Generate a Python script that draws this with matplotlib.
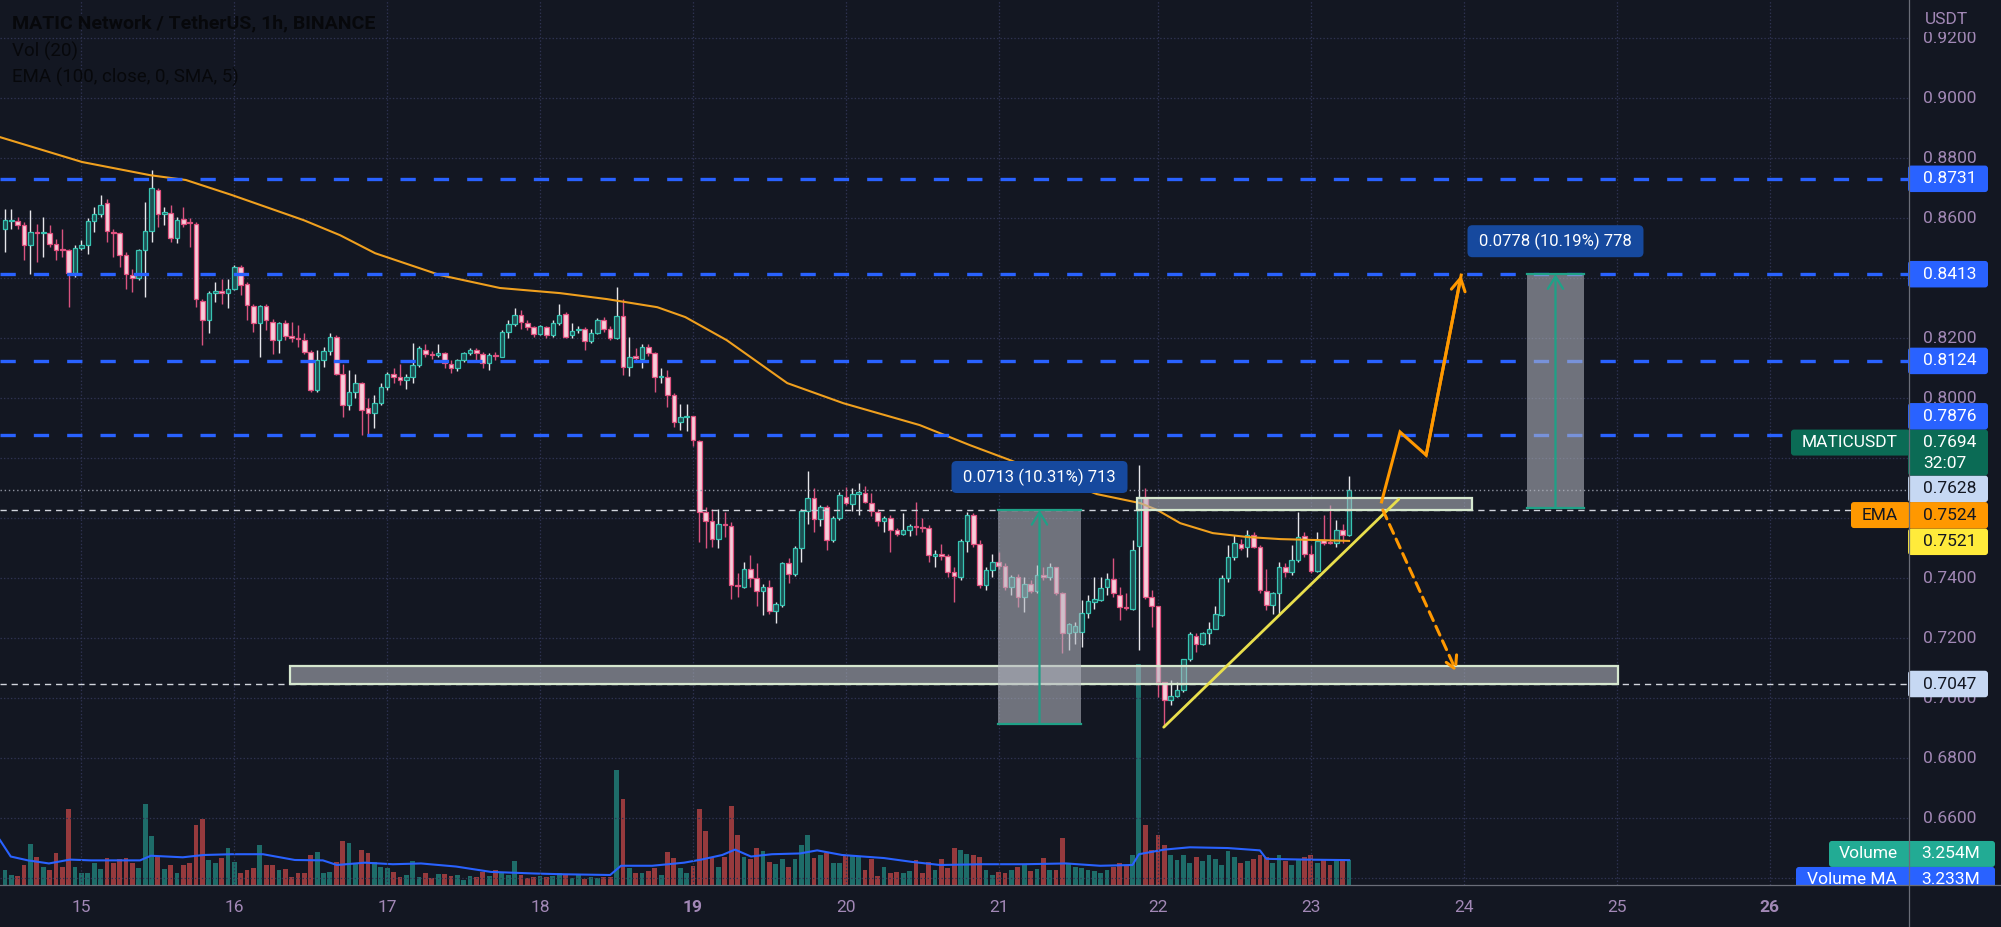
import matplotlib
matplotlib.use("Agg")
import matplotlib.pyplot as plt
from matplotlib.patches import Rectangle, FancyBboxPatch
from matplotlib.lines import Line2D

plt.rcParams['font.family'] = ['Roboto', 'DejaVu Sans']
plt.rcParams['lines.scale_dashes'] = False

W, H = 2001, 927
BG = '#131722'
AXCOL = '#a288b6'
GRID = '#2f3352'

# ---------------- data (1h candles, index 0 = 14th 12:00) ----------------
day_labels = ['15', '16', '17', '18', '19', '20', '21', '22', '23', '24', '25', '26']
day_pos = [12, 36, 60, 84, 108, 132, 156, 181, 205, 229, 253, 277]
bold_days = ['19', '26']

opens = [.8565, .8589, .8591, .8576, .8510, .8554, .8550, .8549, .8515, .8495, .8493, .8418,
         .8502, .8510, .8590, .8613, .8649, .8553, .8549, .8478, .8412, .8401, .8495, .8556,
         .8695, .8615, .8617, .8535, .8597, .8585, .8582, .8324, .8260, .8352, .8357, .8349,
         .8365, .8437, .8380, .8308, .8252, .8308, .8254, .8193, .8249, .8206, .8200, .8193,
         .8154, .8026, .8126, .8157, .8204, .8082, .7976, .8021, .8049, .7966, .7949, .7984,
         .8038, .8080, .8069, .8060, .8071, .8110, .8162, .8145, .8143, .8152, .8113, .8102,
         .8127, .8151, .8160, .8147, .8116, .8142, .8138, .8221, .8247, .8277, .8251, .8236,
         .8213, .8238, .8210, .8249, .8280, .8210, .8227, .8229, .8191, .8218, .8260, .8229,
         .8202, .8274, .8104, .8137, .8132, .8171, .8149, .8070, .8071, .8010, .7921, .7938,
         .7940, .7858, .7619, .7591, .7532, .7579, .7574, .7375, .7369, .7429, .7399, .7358,
         .7371, .7291, .7310, .7449, .7413, .7502, .7623, .7666, .7596, .7636, .7527, .7599,
         .7671, .7647, .7680, .7684, .7651, .7621, .7591, .7599, .7560, .7547, .7562, .7573,
         .7568, .7566, .7473, .7480, .7473, .7421, .7404, .7524, .7610, .7513, .7377, .7427,
         .7455, .7440, .7371, .7404, .7338, .7382, .7358, .7410, .7404, .7436, .7349, .7218,
         .7221, .7221, .7284, .7321, .7327, .7369, .7396, .7343, .7304, .7296, .7507, .7669,
         .7338, .7307, .7054, .6993, .7007, .7027, .7129, .7207, .7182, .7216, .7232, .7277,
         .7399, .7469, .7513, .7504, .7543, .7504, .7358, .7310, .7349, .7436, .7421, .7460,
         .7540, .7480, .7424, .7527, .7521, .7516, .7560, .7543]
highs = [.8632, .8632, .8604, .8587, .8626, .8582, .8604, .8576, .8532, .8565, .8498, .8510,
         .8528, .8599, .8637, .8676, .8665, .8565, .8554, .8487, .8432, .8498, .8654, .8762,
         .8699, .8637, .8643, .8604, .8637, .8602, .8588, .8332, .8357, .8387, .8398, .8398,
         .8443, .8443, .8387, .8315, .8310, .8315, .8265, .8254, .8262, .8254, .8243, .8217,
         .8160, .8160, .8169, .8217, .8210, .8115, .8093, .8082, .8054, .7999, .8010, .8051,
         .8088, .8099, .8113, .8082, .8184, .8173, .8180, .8157, .8180, .8154, .8127, .8132,
         .8154, .8168, .8166, .8154, .8151, .8154, .8227, .8260, .8302, .8295, .8262, .8240,
         .8243, .8240, .8260, .8313, .8288, .8249, .8240, .8236, .8229, .8266, .8269, .8240,
         .8371, .8331, .8204, .8166, .8182, .8180, .8154, .8099, .8093, .8016, .7980, .7980,
         .7940, .7860, .7638, .7629, .7629, .7621, .7588, .7416, .7454, .7477, .7449, .7382,
         .7393, .7321, .7454, .7466, .7507, .7629, .7758, .7699, .7643, .7643, .7607, .7688,
         .7704, .7702, .7716, .7707, .7684, .7632, .7607, .7610, .7566, .7616, .7582, .7654,
         .7599, .7577, .7493, .7513, .7482, .7438, .7532, .7621, .7616, .7527, .7438, .7482,
         .7488, .7449, .7410, .7413, .7404, .7393, .7443, .7438, .7449, .7438, .7354, .7249,
         .7254, .7327, .7343, .7404, .7404, .7418, .7466, .7371, .7349, .7527, .7777, .7699,
         .7362, .7307, .7054, .7060, .7054, .7132, .7221, .7218, .7221, .7254, .7307, .7410,
         .7510, .7543, .7529, .7562, .7554, .7510, .7432, .7354, .7454, .7451, .7510, .7621,
         .7554, .7510, .7554, .7610, .7643, .7593, .7580, .7740]
lows = [.8487, .8565, .8565, .8460, .8415, .8454, .8471, .8504, .8460, .8471, .8304, .8404,
        .8493, .8480, .8554, .8604, .8521, .8471, .8437, .8365, .8354, .8393, .8337, .8521,
        .8571, .8576, .8521, .8517, .8571, .8504, .8304, .8176, .8217, .8321, .8315, .8302,
        .8360, .8343, .8260, .8221, .8137, .8226, .8148, .8151, .8193, .8188, .8171, .8148,
        .8021, .8021, .8104, .8143, .8076, .7938, .7960, .7999, .7877, .7882, .7899, .7976,
        .8027, .8049, .8043, .8032, .8051, .8104, .8138, .8132, .8138, .8099, .8084, .8091,
        .8121, .8143, .8127, .8102, .8093, .8127, .8136, .8199, .8240, .8232, .8227, .8204,
        .8210, .8202, .8204, .8243, .8199, .8199, .8218, .8162, .8184, .8213, .8221, .8195,
        .8197, .8077, .8073, .8127, .8099, .8140, .8021, .8049, .7971, .7904, .7893, .7891,
        .7840, .7521, .7499, .7504, .7499, .7538, .7329, .7338, .7366, .7369, .7307, .7277,
        .7282, .7249, .7304, .7384, .7407, .7454, .7582, .7554, .7573, .7493, .7521, .7593,
        .7643, .7624, .7610, .7649, .7607, .7573, .7554, .7488, .7540, .7543, .7540, .7543,
        .7554, .7454, .7438, .7460, .7404, .7321, .7393, .7488, .7504, .7366, .7362, .7404,
        .7432, .7360, .7343, .7304, .7288, .7349, .7349, .7393, .7393, .7343, .7149, .7160,
        .7182, .7171, .7266, .7296, .7324, .7343, .7338, .7260, .7293, .7293, .7160, .7332,
        .7238, .7004, .6904, .6977, .7004, .7021, .7124, .7154, .7177, .7182, .7229, .7273,
        .7388, .7460, .7493, .7469, .7499, .7349, .7293, .7282, .7282, .7404, .7410, .7454,
        .7471, .7418, .7421, .7510, .7513, .7504, .7518, .7540]
closes = [.8595, .8591, .8576, .8510, .8554, .8551, .8552, .8515, .8495, .8493, .8418, .8502,
          .8510, .8590, .8613, .8645, .8556, .8551, .8476, .8413, .8401, .8495, .8556, .8699,
          .8615, .8618, .8535, .8595, .8582, .8583, .8329, .8260, .8351, .8355, .8349, .8365,
          .8437, .8376, .8310, .8252, .8308, .8260, .8193, .8249, .8206, .8199, .8198, .8154,
          .8026, .8126, .8157, .8204, .8082, .7976, .8021, .8049, .7960, .7949, .7984, .8038,
          .8080, .8069, .8060, .8071, .8110, .8168, .8147, .8143, .8152, .8118, .8102, .8127,
          .8151, .8160, .8149, .8116, .8143, .8140, .8221, .8247, .8277, .8255, .8236, .8213,
          .8240, .8210, .8249, .8277, .8204, .8224, .8229, .8191, .8218, .8260, .8229, .8202,
          .8274, .8104, .8136, .8135, .8171, .8149, .8071, .8072, .8010, .7921, .7938, .7942,
          .7862, .7621, .7591, .7532, .7580, .7577, .7377, .7373, .7429, .7399, .7358, .7371,
          .7291, .7313, .7451, .7413, .7502, .7623, .7666, .7596, .7636, .7527, .7599, .7677,
          .7651, .7682, .7686, .7654, .7624, .7591, .7599, .7560, .7547, .7562, .7573, .7571,
          .7566, .7477, .7482, .7473, .7421, .7407, .7524, .7610, .7513, .7377, .7427, .7455,
          .7440, .7371, .7404, .7336, .7382, .7358, .7410, .7404, .7436, .7349, .7218, .7247,
          .7240, .7284, .7324, .7329, .7366, .7396, .7349, .7304, .7299, .7493, .7669, .7338,
          .7307, .7054, .6993, .7007, .7027, .7129, .7213, .7182, .7216, .7229, .7282, .7399,
          .7469, .7516, .7502, .7543, .7504, .7360, .7310, .7349, .7438, .7421, .7460, .7538,
          .7480, .7424, .7524, .7518, .7516, .7560, .7543, .7693]
# volume in millions
volume = [2.0, 1.3, 1.2, 2.6, 5.3, 3.6, 2.3, 2.0, 4.2, 2.3, 9.9, 2.3, 1.6, 1.6, 2.9, 2.1, 3.5, 2.9, 3.4, 3.5,
          2.9, 2.2, 10.5, 6.4, 3.6, 2.1, 2.6, 1.6, 2.6, 2.9, 7.8, 8.6, 3.3, 2.9, 3.5, 4.8, 3.0, 1.6, 2.0, 2.2,
          5.2, 2.6, 2.6, 2.0, 2.1, 1.0, 1.6, 1.6, 3.9, 4.3, 1.6, 1.7, 3.0, 5.7, 5.5, 2.9, 4.6, 4.2, 3.0, 2.3,
          2.2, 1.7, 1.0, 1.3, 3.1, 1.0, 1.6, 0.9, 1.4, 1.4, 1.2, 1.3, 0.7, 1.2, 1.0, 1.7, 1.2, 2.0, 1.6, 1.3,
          3.1, 1.3, 0.9, 1.0, 1.2, 1.0, 1.2, 1.6, 1.3, 0.9, 1.3, 0.8, 1.0, 0.9, 1.0, 1.0, 15.0, 11.2, 2.2, 1.6,
          1.6, 1.8, 2.2, 1.3, 4.3, 3.5, 2.2, 1.6, 2.5, 9.9, 7.0, 3.5, 2.3, 3.6, 10.3, 6.5, 3.6, 3.4, 4.8, 4.4,
          3.0, 2.7, 3.4, 2.3, 3.4, 5.2, 6.5, 3.5, 3.9, 4.2, 2.9, 2.9, 3.9, 3.8, 3.6, 2.0, 3.4, 1.2, 2.3, 1.6,
          1.7, 1.6, 1.8, 3.3, 1.6, 3.0, 2.0, 3.4, 2.2, 4.8, 4.6, 4.0, 3.9, 3.6, 2.0, 1.3, 1.7, 1.6, 2.0, 2.3,
          2.7, 1.8, 2.1, 3.5, 2.0, 2.0, 6.1, 2.7, 2.3, 2.2, 2.0, 1.8, 1.6,
          2.0, 2.3, 2.9, 2.6, 3.9, 28.7, 7.8, 4.6, 6.5, 5.2, 3.9,
          3.3, 3.9, 2.9, 3.6, 3.1, 3.9, 3.4, 2.6, 4.4, 3.6, 2.9, 3.1, 3.4, 3.9, 3.6, 2.9, 3.9, 3.1, 2.6, 3.4,
          3.6, 3.9, 2.9, 3.3, 2.6, 3.1, 3.4, 3.254]

ema_x = [-0.8, 12.1, 22.8, 28.4, 35.6, 46.9, 52.6, 58.1, 68.3, 77.7, 87.1, 94.5, 102.4, 106.8,
         113.3, 122.8, 131.6, 143.6, 151.5, 157.8, 171.4, 178.2, 180.9, 184.5, 189.6, 195.0, 200.2, 211]
ema_y = [0.8870, 0.8787, 0.8743, 0.8727, 0.8677, 0.8593, 0.8543, 0.8483, 0.8410, 0.8367, 0.8350,
         0.8330, 0.8303, 0.8270, 0.8193, 0.8050, 0.7983, 0.7910, 0.7843, 0.7793, 0.7680, 0.7650,
         0.7627, 0.7583, 0.7550, 0.7537, 0.7530, 0.7524]
vma_x = [-0.8, 0.9, 3.6, 6.9, 10.2, 13.5, 21.2, 22.9, 27.9, 31.2, 35.6, 40.5, 45.5, 49.9, 52.1,
         56.5, 60.9, 65.3, 70.8, 76.3, 82.9, 87.3, 95.0, 96.7, 101.6, 106.6, 109.3, 112.6, 114.6,
         117.1, 120.4, 124.8, 127.5, 131.4, 138.0, 142.4, 146.8, 153.4, 160.0, 166.6, 171.9, 177,
         178, 182, 186, 192, 197, 198, 204, 211]
vma_y = [5.85, 3.7, 3.2, 2.8, 3.3, 3.2, 3.2, 3.8, 3.6, 3.9, 4.0, 4.0, 3.25, 3.2, 2.6,
         2.9, 2.7, 2.8, 2.4, 1.7, 1.5, 1.4, 1.3, 2.5, 2.5, 2.9, 3.3, 3.9, 4.6,
         3.7, 4.0, 4.1, 4.5, 3.9, 3.5, 3.0, 2.6, 2.7, 2.7, 2.8, 2.5, 2.6,
         4.0, 4.6, 4.9, 4.8, 4.5, 3.4, 3.3, 3.233]

price_ticks = [0.64, 0.66, 0.68, 0.70, 0.72, 0.74, 0.76, 0.78, 0.80, 0.82, 0.84, 0.86, 0.88, 0.90, 0.92]
levels = [0.8731, 0.8413, 0.8124, 0.7876]
rays = [0.7628, 0.7047]
last_price = 0.7694
ema_last = 0.7524
trend_last = 0.7521

# drawings: (index, price)
zones = [(44.7, 253.2, 0.7047, 0.7107), (177.7, 230.3, 0.7628, 0.7667)]
ranges = [(155.9, 168.9, 0.7627, 0.6914, '0.0713 (10.31%) 713'),
          (238.9, 247.9, 0.8413, 0.7635, '0.0778 (10.19%) 778')]
trend_x = [181.9, 218.8]
trend_y = [0.6903, 0.7663]
bull_x = [216.1, 219.0, 223.1, 228.6]
bull_y = [0.7654, 0.7887, 0.7810, 0.8410]
bear_x = [216.3, 227.9]
bear_y = [0.7627, 0.7087]

# ---------------- figure ----------------
fig = plt.figure(figsize=(W / 100, H / 100), dpi=100, facecolor=BG)
rect = [0, 42 / H, 1908 / W, 885 / H]
vax = fig.add_axes(rect, zorder=1)
ax = fig.add_axes(rect, zorder=2, sharex=vax)
lab = fig.add_axes([0, 42 / H, 1, 885 / H], zorder=3)
for a in (vax, ax, lab):
    a.set_axis_off()

ax.set_xlim(-0.785, 298.74)
ax.set_ylim(0.6377, 0.9327)
vax.set_ylim(0, 115)
lab.set_xlim(0, W)
lab.set_ylim(885, 0)


def py(p):
    return H - ax.transData.transform((0, p))[1]


def px(i):
    return ax.transData.transform((i, 0))[0]


# grid
for d in day_pos:
    ax.axvline(d, color=GRID, lw=0.9, dashes=(1, 1.5), zorder=0)
for p in price_ticks:
    ax.axhline(p, color=GRID, lw=0.9, dashes=(1, 1.5), zorder=0)

# candles
x = list(range(len(closes)))
up = [c >= o for o, c in zip(opens, closes)]
wick_c = ['#e6e6ea' if u else '#d9537f' for u in up]
body_fc = ['#1d4f52' if u else '#f7cdd9' for u in up]
body_ec = ['#37c4b2' if u else '#e0517f' for u in up]
bottoms = [min(o, c) for o, c in zip(opens, closes)]
heights = [max(abs(c - o), 0.0004) for o, c in zip(opens, closes)]
ax.vlines(x, lows, highs, colors=wick_c, lw=1.0, zorder=3)
ax.bar(x, heights, bottom=bottoms, width=0.72, color=body_fc, edgecolor=body_ec,
       linewidth=0.9, zorder=4)

# volume
vcol = [('#26a69a', 0.6) if u else ('#ef5350', 0.6) for u in up]
vax.bar(x, volume, width=0.75, color=vcol, zorder=2)
vax.plot(vma_x, vma_y, color='#2962ff', lw=1.5, zorder=3)

# EMA
ax.plot(ema_x, ema_y, color='#f0a01e', lw=1.5, zorder=5)

# horizontal levels
for p in levels:
    ax.axhline(p, color='#2962ff', lw=2.4, dashes=(11, 13), zorder=6)
for p in rays:
    ax.axhline(p, color='#d1d4dc', lw=1.0, dashes=(4.5, 3.5), zorder=6)
ax.axhline(last_price, color='#8f93a0', lw=1.0, dashes=(1, 2), zorder=6)

# zones
for i0, i1, p0, p1 in zones:
    ax.add_patch(Rectangle((i0, p0), i1 - i0, p1 - p0, fc=('#b2b5be', 0.58),
                           ec='#d6e8cf', lw=1.6, zorder=7))

# price ranges
GREEN = '#1fa187'
for i0, i1, pt, pb, txt in ranges:
    ic = (i0 + i1) / 2
    ax.add_patch(Rectangle((i0, pb), i1 - i0, pt - pb, fc=('#b2b5be', 0.58), ec='none', zorder=7))
    ax.plot([i0, i1], [pt, pt], color=GREEN, lw=1.6, zorder=8)
    ax.plot([i0, i1], [pb, pb], color=GREEN, lw=1.6, zorder=8)
    ax.annotate('', xy=(ic, pt), xytext=(ic, pb), zorder=8,
                arrowprops=dict(arrowstyle='->,head_length=0.9,head_width=0.55', color=GREEN,
                                lw=1.6, shrinkA=0, shrinkB=0))
    cx, cy = px(ic), py(pt) - 33
    lab.add_patch(FancyBboxPatch((cx - 88, cy - 16), 176, 32, boxstyle='round,pad=0,rounding_size=5',
                                 fc='#16499e', ec='none', zorder=4))
    lab.text(cx, cy, txt, color='white', fontsize=12, ha='center', va='center', zorder=5)

# trend line and scenario arrows
ax.plot(trend_x, trend_y, color='#e9df4c', lw=2.0, zorder=9, solid_capstyle='round')
ax.plot(bull_x, bull_y, color='#ff9800', lw=2.2, zorder=9, solid_joinstyle='miter')
ax.annotate('', xy=(bull_x[-1], bull_y[-1]), xytext=(bull_x[-2], bull_y[-2]), zorder=9,
            arrowprops=dict(arrowstyle='->,head_length=0.9,head_width=0.5', color='#ff9800',
                            lw=2.2, shrinkA=0, shrinkB=0))
ax.annotate('', xy=(bear_x[-1], bear_y[-1]), xytext=(bear_x[0], bear_y[0]), zorder=9,
            arrowprops=dict(arrowstyle='->,head_length=0.9,head_width=0.5', color='#ff9800',
                            lw=2.2, linestyle=(0, (7, 4.5)), shrinkA=0, shrinkB=0))

# ---------------- right price scale ----------------
BLUE = '#2962ff'
LIGHT = '#c6d8f3'
DARK = '#131722'
labels = [  # price, text, face, text colour, tag, tag face, tag left px, second line
    (0.7047, '0.7047', LIGHT, DARK, None, None, None, None),
    (trend_last, '0.7521', '#ffeb3b', DARK, None, None, None, None),
    (ema_last, '0.7524', '#ff9800', DARK, 'EMA', '#ff9800', 1851, None),
    (0.7628, '0.7628', LIGHT, DARK, None, None, None, None),
    (last_price, '0.7694', '#0b6b55', 'white', 'MATICUSDT', '#0b6b55', 1791, '32:07'),
    (0.7876, '0.7876', BLUE, 'white', None, None, None, None),
    (0.8124, '0.8124', BLUE, 'white', None, None, None, None),
    (0.8413, '0.8413', BLUE, 'white', None, None, None, None),
    (0.8731, '0.8731', BLUE, 'white', None, None, None, None),
]

# stack the price labels upward so they do not collide
spans = []
top = 1e9
for p, txt, fc, tc, tag, tfc, tx0, sub in labels:
    h = 46 if sub else 26.5
    yc = min(py(p), top - h / 2)
    top = yc - h / 2
    y0 = yc - h / 2
    spans.append((y0, y0 + h))
    lab.add_patch(FancyBboxPatch((1908, y0), 80, h, boxstyle='round,pad=0,rounding_size=3',
                                 fc=fc, ec='none', zorder=4))
    if sub:
        lab.text(1950, y0 + 12.5, txt, color=tc, fontsize=12.5, ha='center', va='center', zorder=5)
        lab.text(1945, y0 + 34, sub, color=tc, fontsize=12.5, ha='center', va='center', zorder=5)
    else:
        lab.text(1950, yc, txt, color=tc, fontsize=12.5, ha='center', va='center', zorder=5)
    if tag:
        lab.add_patch(FancyBboxPatch((tx0, y0), 1910 - tx0, 26, boxstyle='round,pad=0,rounding_size=3',
                                     fc=tfc, ec='none', zorder=4))
        lab.text((tx0 + 1908) / 2, y0 + 13, tag, color=tc, fontsize=12.5, ha='center', va='center',
                 zorder=5)

# volume labels
yv = H - vax.transData.transform((0, volume[-1]))[1] - 6
for yc, tag, val, fc, tx0 in [(yv, 'Volume', f'{volume[-1]:.3f}M', '#22ab94', 1829),
                              (yv + 26, 'Volume MA', f'{vma_y[-1]:.3f}M', BLUE, 1796)]:
    spans.append((yc - 13, yc + 13))
    lab.add_patch(FancyBboxPatch((tx0, yc - 13), 1995 - tx0, 26, boxstyle='round,pad=0,rounding_size=3',
                                 fc=fc, ec='none', zorder=4))
    lab.text((tx0 + 1908) / 2, yc, tag, color='white', fontsize=12.5, ha='center', va='center', zorder=5)
    lab.text(1951, yc, val, color='white', fontsize=12.5, ha='center', va='center', zorder=5)

# tick labels, skipping the ones hidden under a price label
for p in price_ticks:
    yt = py(p)
    if any(a < yt < b for a, b in spans):
        continue
    lab.text(1950, yt, f'{p:.4f}', color=AXCOL, fontsize=12.5, ha='center', va='center', zorder=1)
lab.add_patch(Rectangle((1909, 0), 92, 32, fc=BG, ec='none', zorder=2))
lab.text(1946, 20, 'USDT', color=AXCOL, fontsize=12.5, ha='center', va='center', zorder=3)

# separators
fig.add_artist(Line2D([1908.5 / W] * 2, [0, 1], color='#6a6d78', lw=0.9, zorder=5))
fig.add_artist(Line2D([0, 1], [42 / H] * 2, color='#6a6d78', lw=0.9, zorder=5))

# time axis
for d, t in zip(day_pos, day_labels):
    fig.text(px(d) / W, 1 - 907 / H, t, color=AXCOL, fontsize=12.5, ha='center', va='center',
             weight='bold' if t in bold_days else 'normal')

# legend text (top left)
fig.text(12 / W, 1 - 23 / H, 'MATIC Network / TetherUS, 1h, BINANCE', color='#07080b', fontsize=14,
         weight='bold', va='center', zorder=10)
fig.text(12 / W, 1 - 51 / H, 'Vol (20)', color='#07080b', fontsize=13.5, va='center', zorder=10)
fig.text(12 / W, 1 - 77 / H, 'EMA (100, close, 0, SMA, 5)', color='#07080b', fontsize=13.5, va='center',
         zorder=10)

fig.savefig('out.png', dpi=100, facecolor=BG)
